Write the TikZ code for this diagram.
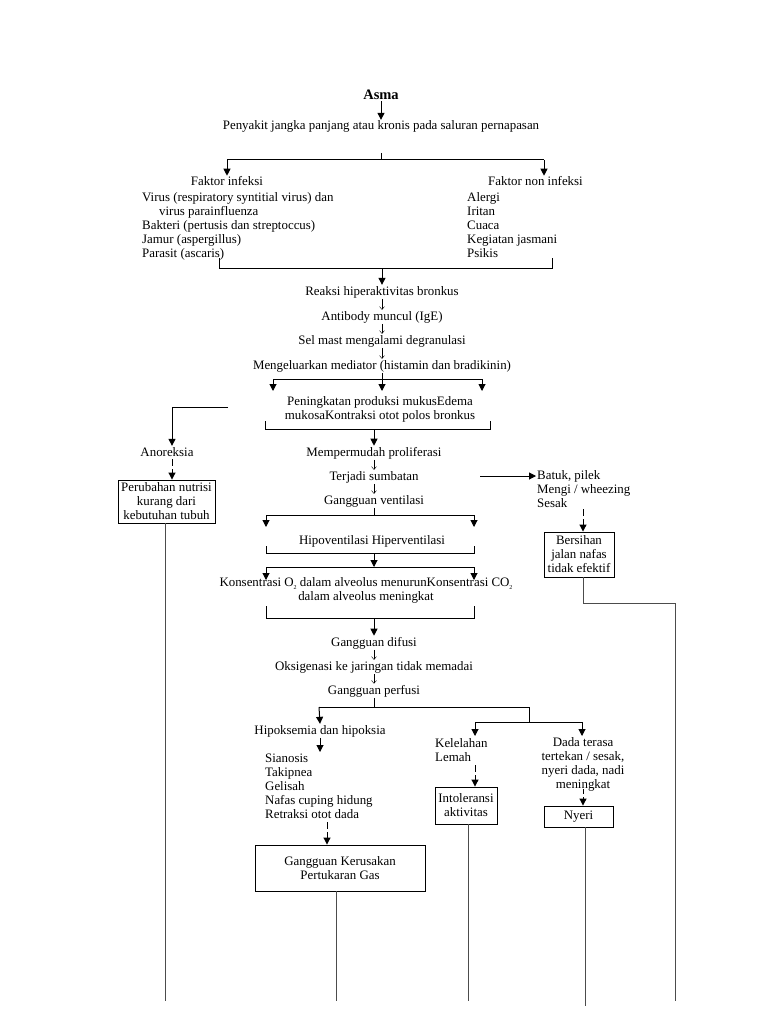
\documentclass[tikz,border=0pt]{standalone}
\usepackage{fontspec}
\setmainfont{Liberation Serif}
\usetikzlibrary{arrows.meta,calc}
\newcommand\dgfont{\fontsize{12.9}{14}\selectfont}
\newcommand\dgsub[1]{\raisebox{-2.5pt}{\fontsize{6}{6}\selectfont #1}}
\begin{document}
\begin{tikzpicture}[x=1pt,y=-1pt,
  lbl/.style={inner sep=1pt,font=\dgfont,anchor=base},
  lst/.style={inner sep=1pt,font=\dgfont,align=left,anchor=north west},
  ctr/.style={inner sep=1pt,font=\dgfont,align=center},
  box/.style={draw,line width=0.9pt,inner sep=0pt,font=\dgfont,align=center},
  ln/.style={line width=1pt},
  arr/.style={line width=1pt,-{Triangle[length=7pt,width=7pt]}},
  darr/.style={arr,dash pattern=on 7pt off 3pt},
  tarr/.style={line width=0.4pt,-{Straight Barb[length=3pt,width=5pt]}},
  long/.style={line width=0.8pt,draw=black!70}]
\fill[white] (0,0) rectangle (768,1024);
\useasboundingbox (0,0) rectangle (768,1024);

% top
\node[lbl,font=\fontsize{14.5}{16}\selectfont\bfseries] (asma) at (381,100) {Asma};
\node[lbl] (peny) at (381,130) {Penyakit jangka panjang atau kronis pada saluran pernapasan};
\draw[arr] (asma.south) -- (peny.north);

\coordinate (f1t) at (381,153);
\coordinate (f1) at (381,160);
\coordinate (f1l) at (227,160);
\coordinate (f1r) at (544,160);
\draw[ln] (f1t) -- (f1);
\draw[ln] (f1l) -- (f1r);

\node[lbl] (fi) at (227,186) {Faktor infeksi};
\node[lbl,anchor=base west] (fni) at (487,186) {Faktor non infeksi};
\draw[arr] (f1l) -- (fi.north);
\draw[arr] (f1r) -- (f1r |- fni.north);

\node[lst] (inf) at (141,191) {Virus (respiratory syntitial virus) dan\\\hspace*{17pt}virus parainfluenza\\Bakteri (pertusis dan streptoccus)\\Jamur (aspergillus)\\Parasit (ascaris)};
\node[lst] (ninf) at (466,191) {Alergi\\Iritan\\Cuaca\\Kegiatan jasmani\\Psikis};

% bracket 1
\coordinate (b1l) at (219,268);
\coordinate (b1r) at (552,268);
\coordinate (b1) at (382,268);
\draw[ln] ($(b1l)+(0,-10)$) -- (b1l) -- (b1r) -- ($(b1r)+(0,-10)$);

\node[lbl] (reac) at (382,295) {Reaksi hiperaktivitas bronkus};
\node[lbl] (anti) at (382,320) {Antibody muncul (IgE)};
\node[lbl] (sel) at (382,344) {Sel mast mengalami degranulasi};
\node[lbl] (meng) at (382,369) {Mengeluarkan mediator (histamin dan bradikinin)};
\draw[arr] (b1) -- (reac.north);
\draw[tarr] (reac) -- (anti);
\draw[tarr] (anti) -- (sel);
\draw[tarr] (sel) -- (meng);

% fork 2
\coordinate (f2) at (382,379);
\coordinate (f2l) at (273,379);
\coordinate (f2r) at (482,379);
\draw[ln] (meng.south) -- (f2);
\draw[ln] (f2l) -- (f2r);
\draw[arr] (f2l) -- ++(0,12);
\draw[arr] (f2) -- ++(0,12);
\draw[arr] (f2r) -- ++(0,12);

\node[ctr] (peni) at (380,409) {Peningkatan produksi mukusEdema\\mukosaKontraksi otot polos bronkus};

% bracket 2
\coordinate (b2l) at (265,429);
\coordinate (b2r) at (490,429);
\coordinate (b2) at (374,429);
\draw[ln] ($(b2l)+(0,-8)$) -- (b2l) -- (b2r) -- ($(b2r)+(0,-8)$);

% left branch
\node[lbl] (anor) at (167,456) {Anoreksia};
\node[box,minimum width=97pt,minimum height=43pt] (perub) at (166.5,501.5) {Perubahan nutrisi\\kurang dari\\kebutuhan tubuh};
\coordinate (lb) at (228,407);
\coordinate (lbx) at (172,407);
\draw[arr] (lb) -- (lbx) -- (lbx |- anor.north);
\coordinate (ad) at (172,459);
\draw[darr] (ad) -- (ad |- perub.north);
\coordinate (e1) at (165,1001);
\draw[long] (perub.south -| e1) -- (e1);

% main column
\node[lbl] (memp) at (374,456) {Mempermudah proliferasi};
\node[lbl] (terj) at (374,480) {Terjadi sumbatan};
\node[lbl] (gv) at (374,504) {Gangguan ventilasi};
\draw[arr] (b2) -- (memp.north);
\draw[tarr] (memp) -- (terj);
\draw[tarr] (terj) -- (gv);

% right branch
\node[lst] (batuk) at (536,469) {Batuk, pilek\\Mengi / wheezing\\Sesak};
\coordinate (ta) at (480,476);
\draw[arr] (ta) -- (ta -| batuk.west);
\node[box,minimum width=70pt,minimum height=45pt] (bers) at (579,554.5) {Bersihan\\jalan nafas\\tidak efektif};
\coordinate (bd) at (583,509);
\draw[darr] (bd) -- (bd |- bers.north);
\coordinate (bc) at (675,603);
\coordinate (e5) at (675,1001);
\draw[long] (bers.south -| bd) |- (bc) -- (e5);

% ventilation
\coordinate (f3) at (374,515);
\coordinate (f3l) at (266,515);
\coordinate (f3r) at (474,515);
\draw[ln] (gv.south) -- (f3);
\draw[ln] (f3l) -- (f3r);
\draw[arr] (f3l) -- ++(0,12);
\draw[arr] (f3r) -- ++(0,12);
\node[lbl] (hipo) at (372,544) {Hipoventilasi Hiperventilasi};
\coordinate (b3l) at (266,553);
\coordinate (b3r) at (474,553);
\coordinate (b3) at (374,553);
\draw[ln] ($(b3l)+(0,-7)$) -- (b3l) -- (b3r) -- ($(b3r)+(0,-7)$);
\coordinate (f4) at (374,567);
\coordinate (f4l) at (266,567);
\coordinate (f4r) at (474,567);
\draw[arr] (b3) -- (f4);
\draw[ln] (f4l) -- (f4r);
\draw[arr] (f4l) -- ++(0,13);
\draw[arr] (f4r) -- ++(0,13);

\node[ctr] (kons) at (366,590.5) {Konsentrasi O\dgsub{2} dalam alveolus menurunKonsentrasi CO\dgsub{2}\\dalam alveolus meningkat};
\coordinate (b4l) at (266,618);
\coordinate (b4r) at (474,618);
\coordinate (b4) at (374,618);
\draw[ln] ($(b4l)+(0,-12)$) -- (b4l) -- (b4r) -- ($(b4r)+(0,-12)$);

\node[lbl] (gdif) at (374,646) {Gangguan difusi};
\node[lbl] (oks) at (374,670) {Oksigenasi ke jaringan tidak memadai};
\node[lbl] (gper) at (374,694) {Gangguan perfusi};
\draw[arr] (b4) -- (gdif.north);
\draw[tarr] (gdif) -- (oks);
\draw[tarr] (oks) -- (gper);

% fork 5
\coordinate (f5) at (374,707);
\coordinate (f5l) at (319,707);
\coordinate (f5r) at (529,707);
\coordinate (f6) at (529,722);
\coordinate (f6l) at (475,722);
\coordinate (f6r) at (582,722);
\draw[ln] (gper.south) -- (f5);
\draw[ln] (f5l) -- (f5r) -- (f6);
\draw[ln] (f6l) -- (f6r);
\draw[arr] (f6l) -- ++(0,14);
\draw[arr] (f6r) -- ++(0,14);

\node[lbl] (hipok) at (320,734) {Hipoksemia dan hipoksia};
\draw[arr] (f5l) -- (hipok.north);
\coordinate (hk) at (320,752);
\draw[arr] (hipok.south) -- (hk);
\node[lst] (sian) at (264,752.5) {Sianosis\\Takipnea\\Gelisah\\Nafas cuping hidung\\Retraksi otot dada};
\node[box,minimum width=170pt,minimum height=46pt] (gk) at (340,868) {Gangguan Kerusakan\\Pertukaran Gas};
\coordinate (sd) at (327,822);
\draw[darr] (sd) -- (sd |- gk.north);
\coordinate (e2) at (336,1001);
\draw[long] (gk.south -| e2) -- (e2);

\node[lst] (kel) at (434,737.5) {Kelelahan\\Lemah};
\node[box,minimum width=62pt,minimum height=37pt] (intol) at (466,805.5) {Intoleransi\\aktivitas};
\coordinate (kd) at (475,765);
\draw[darr] (kd) -- (kd |- intol.north);
\coordinate (e3) at (468,1001);
\draw[long] (intol.south -| e3) -- (e3);

\node[ctr] (dada) at (583,764.5) {Dada terasa\\tertekan / sesak,\\nyeri dada, nadi\\meningkat};
\node[box,minimum width=69pt,minimum height=21pt] (nyeri) at (578.5,816.5) {Nyeri};
\coordinate (dd) at (583,789);
\draw[darr,dash pattern=on 5pt off 3pt] (dd) -- (dd |- nyeri.north);
\coordinate (e4) at (585,1006);
\draw[long] (nyeri.south -| e4) -- (e4);
\end{tikzpicture}
\end{document}
